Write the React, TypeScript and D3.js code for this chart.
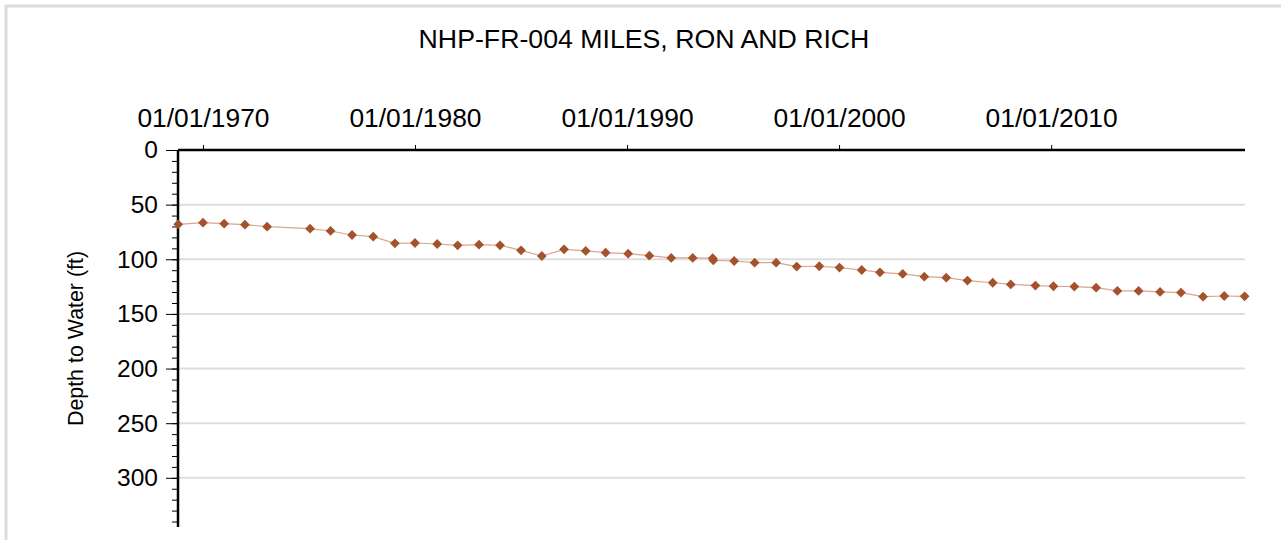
import React, { useRef, useEffect } from 'react';
import * as d3 from 'd3';

// constants
const width = 1281;
const height = 540;
const margin = { top: 150, right: 36, bottom: 13, left: 178 };
const innerWidth = width - margin.left - margin.right;
const innerHeight = height - margin.top - margin.bottom;
const font = "'Liberation Sans', Arial, sans-serif";

const title = 'NHP-FR-004 MILES, RON AND RICH';
const yLabel = 'Depth to Water (ft)';

// measurement dates and depth to water (ft)
const dates = [
  '1968-11-01', '1970-01-01', '1971-01-01', '1971-12-25', '1973-01-10', '1975-01-20',
  '1976-01-08', '1977-01-12', '1978-01-12', '1979-01-20', '1980-01-01', '1981-01-18',
  '1982-01-05', '1983-01-08', '1984-01-05', '1985-01-01', '1985-12-25', '1987-01-12',
  '1988-01-20', '1988-12-28', '1990-01-20', '1991-01-20', '1992-02-01', '1993-02-05',
  '1994-01-15', '1994-01-25', '1995-01-20', '1996-01-08', '1997-01-12', '1998-01-01',
  '1999-01-25', '2000-01-08', '2001-01-25', '2001-12-05', '2003-01-01', '2004-01-08',
  '2005-01-20', '2006-01-20', '2007-04-01', '2008-02-05', '2009-04-05', '2010-02-10',
  '2011-02-05', '2012-02-15', '2013-02-15', '2014-02-15', '2015-02-20', '2016-02-15',
  '2017-03-01', '2018-03-01', '2019-02-15',
];
const depths = [
  68.0, 66.5, 67.4, 68.3, 70.2, 72.0,
  74.1, 77.8, 79.3, 85.4, 85.1, 86.0,
  87.2, 86.6, 87.2, 91.8, 97.0, 90.9,
  92.4, 94.0, 94.9, 96.7, 98.8, 98.8,
  99.0, 101.0, 101.6, 103.1, 103.1, 106.7,
  106.4, 107.6, 109.8, 111.9, 113.4, 115.9,
  116.8, 119.5, 121.5, 123.0, 124.1, 124.7,
  125.0, 126.0, 129.0, 129.0, 129.9, 130.5,
  134.2, 133.6, 133.9,
];

// axis ticks
const xTickYears = [1970, 1980, 1990, 2000, 2010];
const yTicks = [0, 50, 100, 150, 200, 250, 300];
const xDomain = ['1968-10-28', '2019-02-22'];
const yDomain = [0, 345];

const parse = d3.timeParse('%Y-%m-%d');

const App = () => {
  const gRef = useRef<SVGGElement>(null);

  const data = dates.map((d, i) => ({ date: parse(d) as Date, depth: depths[i] }));

  const xScale = d3.scaleTime()
    .domain(xDomain.map(d => parse(d) as Date))
    .range([0, innerWidth]);
  const yScale = d3.scaleLinear()
    .domain(yDomain)
    .range([0, innerHeight]);

  useEffect(() => {
    const g = d3.select(gRef.current);
    g.selectAll('*').remove();

    // gridlines
    g.append('g')
      .selectAll('line')
      .data(yTicks.filter(d => d > 0))
      .join('line')
        .attr('x1', 0)
        .attr('x2', innerWidth)
        .attr('y1', d => yScale(d))
        .attr('y2', d => yScale(d))
        .attr('stroke', '#dedede')
        .attr('stroke-width', 2);

    // minor y ticks
    g.append('g')
      .call(d3.axisLeft(yScale).tickValues(d3.range(10, 345, 10)).tickSize(6).tickFormat(() => ''))
      .call(s => s.select('.domain').remove())
      .call(s => s.selectAll('line').attr('stroke', '#000').attr('stroke-width', 1));

    // major y ticks
    g.append('g')
      .call(d3.axisLeft(yScale).tickValues(yTicks).tickSize(12).tickPadding(8))
      .call(s => s.select('.domain').remove())
      .call(s => s.selectAll('line').attr('stroke', '#000').attr('stroke-width', 1))
      .call(s => s.selectAll('text')
        .attr('font-family', font)
        .attr('font-size', 24.5)
        .attr('fill', '#000'));

    // top x axis
    g.append('g')
      .call(d3.axisTop(xScale)
        .tickValues(xTickYears.map(y => new Date(y, 0, 1)))
        .tickSize(5)
        .tickPadding(18)
        .tickFormat(d3.timeFormat('%m/%d/%Y') as any))
      .call(s => s.select('.domain').remove())
      .call(s => s.selectAll('line').attr('stroke', '#000').attr('stroke-width', 1))
      .call(s => s.selectAll('text')
        .attr('font-family', font)
        .attr('font-size', 26.4)
        .attr('fill', '#000'));

    // axis lines
    g.append('line')
      .attr('x1', 0).attr('x2', 0)
      .attr('y1', 0).attr('y2', innerHeight)
      .attr('stroke', '#000').attr('stroke-width', 2.5);
    g.append('line')
      .attr('x1', 0).attr('x2', innerWidth)
      .attr('y1', 0).attr('y2', 0)
      .attr('stroke', '#000').attr('stroke-width', 2.5);

    // series line
    const line = d3.line<{ date: Date; depth: number }>()
      .x(d => xScale(d.date))
      .y(d => yScale(d.depth));
    g.append('path')
      .datum(data)
      .attr('d', line)
      .attr('fill', 'none')
      .attr('stroke', '#d9a58e')
      .attr('stroke-width', 1.2);

    // diamond markers
    const symbol = d3.symbol().type(d3.symbolSquare).size(48);
    g.append('g')
      .selectAll('path')
      .data(data)
      .join('path')
        .attr('d', symbol)
        .attr('transform', d => `translate(${xScale(d.date)},${yScale(d.depth)}) rotate(45)`)
        .attr('fill', '#a3522d');
  }, []);

  return (
    <div>
      <style>{'body{margin:0}'}</style>
      <svg width={width} height={height} style={{ display: 'block' }}>
        <rect x={6} y={6} width={1300} height={560} fill="#fff" stroke="#dddddd" strokeWidth={3} />
        <text x={644} y={47.5} textAnchor="middle" fontFamily={font} fontSize={26.7} fill="#000">{title}</text>
        <text
          transform={`translate(83,${margin.top + innerHeight / 2}) rotate(-90)`}
          textAnchor="middle"
          fontFamily={font}
          fontSize={21.4}
          fill="#000"
        >{yLabel}</text>
        <g transform={`translate(${margin.left},${margin.top})`} ref={gRef}></g>
      </svg>
    </div>
  );
};

export default App;
